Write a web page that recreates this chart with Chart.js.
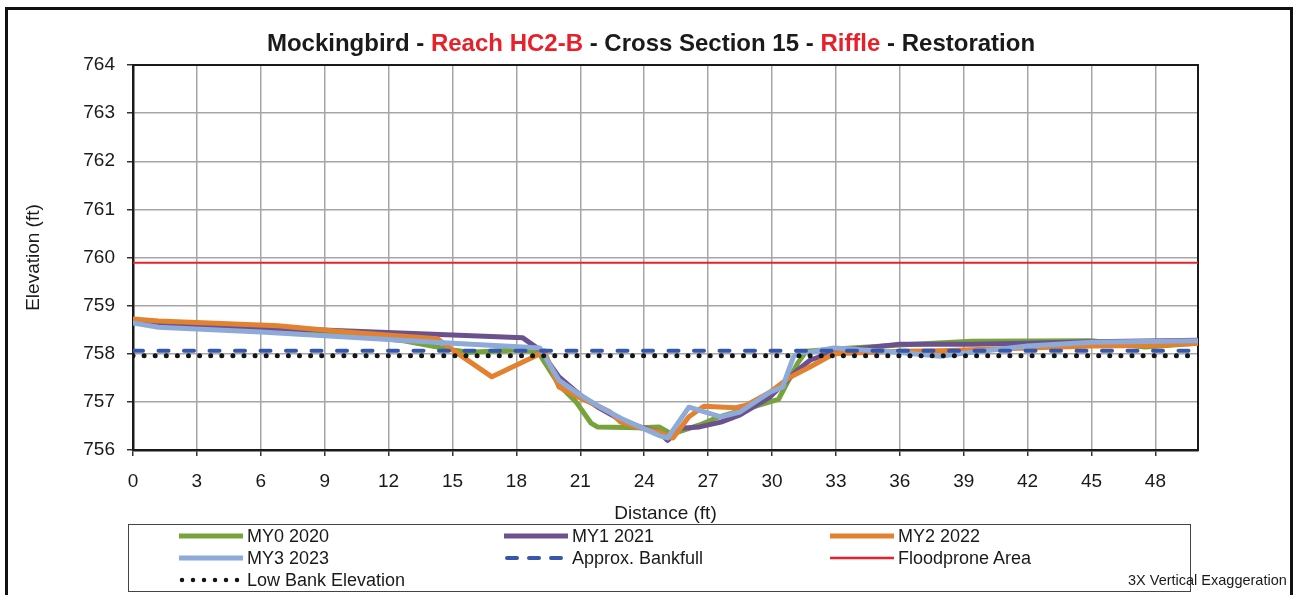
<!DOCTYPE html>
<html>
<head>
<meta charset="utf-8">
<title>Mockingbird - Reach HC2-B - Cross Section 15</title>
<script src="https://cdn.jsdelivr.net/npm/chart.js@4/dist/chart.umd.min.js"></script>
<style>
  body { margin: 0; background: #fff; font-family: "Liberation Sans", Arial, sans-serif; }
  #wrap { position: relative; width: 1297px; height: 595px; overflow: hidden; }
  #xs { position: absolute; left: 0; top: 0; }
  #frame { position: absolute; left: 5px; top: 7px; width: 1282px; height: 640px; border: 3px solid #111; pointer-events: none; }
  #title { position: absolute; left: 0; top: 29px; width: 1302px; text-align: center; font-weight: bold; font-size: 24px; line-height: 28px; color: #1a1a1a; }
  #title .red { color: #e8202a; }
  #legend { position: absolute; left: 128px; top: 524px; width: 1061px; height: 66px; border: 1px solid #444; background: #fff; }
  .item { position: absolute; height: 22px; line-height: 22px; font-size: 18px; color: #1a1a1a; white-space: nowrap; }
  .item svg { vertical-align: middle; margin-right: 4px; position: relative; top: -1px; }
  #note { position: absolute; left: 1128px; top: 572px; font-size: 14.5px; color: #1a1a1a; white-space: nowrap; }
</style>
</head>
<body>
<div id="wrap">
  <canvas id="xs" width="1297" height="595"></canvas>
  <div id="frame"></div>
  <div id="title">Mockingbird - <span class="red">Reach HC2-B</span> - Cross Section 15 - <span class="red">Riffle</span> - Restoration</div>
  <div id="legend"></div>
  <div id="note">3X Vertical Exaggeration</div>
</div>
<script>
// survey data, distance (ft) / elevation (ft)
var my0Dist = [0, 1.2, 6, 10, 12.7, 15, 15.8, 18, 19, 20, 20.8, 21.5, 21.8, 23.8, 24.7, 25.3, 26.6, 27.4, 29.9, 30.3, 31.2, 31.6, 33, 36, 39.4, 45, 47.5, 50];
var my0Elev = [758.68, 758.6, 758.52, 758.4, 758.27, 758.08, 758.03, 758.08, 758.05, 757.35, 757.0, 756.56, 756.48, 756.46, 756.48, 756.33, 756.52, 756.67, 757.0, 757.05, 757.8, 758.05, 758.1, 758.18, 758.26, 758.27, 758.14, 758.22];

var my1Dist = [0, 1.2, 6, 9.2, 15, 18.3, 19.1, 20, 21, 21.9, 22.9, 23.8, 24.7, 25.1, 25.7, 26.6, 27.6, 28.5, 29.9, 31.2, 31.8, 32.7, 33.5, 36, 39.4, 42, 45, 50];
var my1Elev = [758.66, 758.6, 758.53, 758.49, 758.39, 758.33, 758.08, 757.52, 757.14, 756.87, 756.62, 756.48, 756.37, 756.2, 756.45, 756.48, 756.58, 756.73, 757.1, 757.66, 757.87, 758.01, 758.08, 758.2, 758.2, 758.22, 758.25, 758.28];

var my2Dist = [0, 1.2, 6.8, 10, 14.3, 15, 16.85, 18.97, 19.3, 20, 21, 21.9, 22.4, 22.9, 23.8, 24.7, 25.35, 26.1, 26.8, 28.3, 28.8, 29.9, 30.8, 31.8, 32.9, 36, 37.9, 42, 45, 48, 50];
var my2Elev = [758.72, 758.68, 758.58, 758.45, 758.31, 758.08, 757.52, 757.97, 758.06, 757.31, 757.08, 756.9, 756.79, 756.58, 756.46, 756.37, 756.25, 756.69, 756.91, 756.88, 756.93, 757.2, 757.5, 757.73, 758.0, 758.05, 758.06, 758.12, 758.16, 758.17, 758.22];

var my3Dist = [0, 1.2, 6, 9.2, 15, 18.3, 19.1, 20, 21, 21.9, 22.9, 23.8, 24.7, 25.1, 26.1, 27.6, 28.5, 29.9, 30.5, 31, 31.3, 31.8, 32.9, 35.9, 37.9, 38.8, 42, 45, 50];
var my3Elev = [758.64, 758.55, 758.45, 758.37, 758.22, 758.14, 758.12, 757.45, 757.14, 756.9, 756.66, 756.48, 756.3, 756.25, 756.89, 756.69, 756.79, 757.2, 757.31, 757.93, 758.03, 758.03, 758.12, 758.03, 757.95, 758.0, 758.16, 758.24, 758.27];

var bankfullElev = 758.06;
var floodproneElev = 759.89;
var lowBankElev = 757.96;

var xRange = [0, 50];
var xTicks = [0, 3, 6, 9, 12, 15, 18, 21, 24, 27, 30, 33, 36, 39, 42, 45, 48];
var yTicks = [756, 757, 758, 759, 760, 761, 762, 763, 764];

function pts(xs, ys) {
  return xs.map(function(x, i) { return {x: x, y: ys[i]}; });
}
function flat(y) {
  return [{x: xRange[0], y: y}, {x: xRange[1], y: y}];
}

var legendItems = [
  {label: 'MY0 2020', color: '#77a33b', width: 5, dash: ''},
  {label: 'MY1 2021', color: '#6b528e', width: 5, dash: ''},
  {label: 'MY2 2022', color: '#e3812f', width: 5, dash: ''},
  {label: 'MY3 2023', color: '#8eaad8', width: 5, dash: ''},
  {label: 'Approx. Bankfull', color: '#3558ad', width: 4, dash: '10 12'},
  {label: 'Floodprone Area', color: '#e8222b', width: 2.5, dash: ''},
  {label: 'Low Bank Elevation', color: '#151515', width: 4.5, dash: '0 11'}
];

var colX = [50, 375, 701];
var leg = document.getElementById('legend');
legendItems.forEach(function(it, i) {
  var d = document.createElement('div');
  d.className = 'item';
  d.style.left = colX[i % 3] + 'px';
  d.style.top = (Math.floor(i / 3) * 22) + 'px';
  var cap = it.dash ? 'round' : 'butt';
  d.innerHTML = '<svg width="64" height="10"><line x1="' + (it.dash ? 3 : 0) + '" y1="5" x2="64" y2="5" stroke="' + it.color +
    '" stroke-width="' + it.width + '" stroke-linecap="' + cap + '" stroke-dasharray="' + it.dash + '"/></svg>' + it.label;
  leg.appendChild(d);
});

var plotFrame = {
  id: 'plotFrame',
  beforeDatasetsDraw: function(chart) {
    var a = chart.chartArea, ctx = chart.ctx;
    ctx.save();
    ctx.strokeStyle = '#1a1a1a';
    ctx.lineWidth = 2;
    ctx.strokeRect(a.left, a.top, a.right - a.left, a.bottom - a.top);
    ctx.restore();
  }
};

Chart.defaults.font.family = '"Liberation Sans", Arial, sans-serif';
Chart.defaults.color = '#1a1a1a';

var series = {borderWidth: 5, pointRadius: 0, tension: 0, borderJoinStyle: 'round', borderCapStyle: 'round', fill: false};

var ctx = document.getElementById('xs').getContext('2d');
var xsChart = new Chart(ctx, {
  type: 'line',
  data: {
    datasets: [
      Object.assign({label: 'MY0 2020', data: pts(my0Dist, my0Elev), borderColor: '#77a33b', order: 6}, series),
      Object.assign({label: 'MY1 2021', data: pts(my1Dist, my1Elev), borderColor: '#6b528e', order: 5}, series),
      Object.assign({label: 'MY2 2022', data: pts(my2Dist, my2Elev), borderColor: '#e3812f', order: 4}, series),
      Object.assign({label: 'MY3 2023', data: pts(my3Dist, my3Elev), borderColor: '#8eaad8', order: 3}, series),
      {label: 'Approx. Bankfull', data: flat(bankfullElev), borderColor: '#3558ad', borderWidth: 4, borderDash: [10, 15.5],
        borderCapStyle: 'round', pointRadius: 0, order: 1},
      {label: 'Floodprone Area', data: flat(floodproneElev), borderColor: '#e8222b', borderWidth: 2, pointRadius: 0, order: 2},
      {label: 'Low Bank Elevation', data: flat(lowBankElev), borderColor: '#151515', borderWidth: 5, borderDash: [0, 11.1],
        borderCapStyle: 'round', pointRadius: 0, order: 0}
    ]
  },
  options: {
    responsive: false,
    animation: false,
    devicePixelRatio: 1,
    layout: {padding: {left: 0, top: 65, right: 99, bottom: 70}},
    plugins: {legend: {display: false}, title: {display: false}, tooltip: {enabled: false}},
    scales: {
      x: {
        type: 'linear', min: xRange[0], max: xRange[1],
        afterBuildTicks: function(s) { s.ticks = xTicks.map(function(v) { return {value: v}; }); },
        afterFit: function(s) { s.height = 75; },
        ticks: {font: {size: 19}, padding: 14, maxRotation: 0, autoSkip: false},
        grid: {color: '#a6a6a6', lineWidth: 1.5, tickLength: 6, tickColor: '#333'},
        border: {color: '#1a1a1a', width: 2.5},
        title: {display: true, text: 'Distance (ft)', font: {size: 19}, padding: {top: 0, bottom: 0}}
      },
      y: {
        min: yTicks[0], max: yTicks[yTicks.length - 1],
        afterBuildTicks: function(s) { s.ticks = yTicks.map(function(v) { return {value: v}; }); },
        afterFit: function(s) { s.width = 133; },
        ticks: {font: {size: 19}, padding: 12},
        grid: {color: '#a6a6a6', lineWidth: 1.5, tickLength: 6, tickColor: '#333'},
        border: {color: '#1a1a1a', width: 2.5},
        title: {display: true, text: 'Elevation (ft)', font: {size: 19}, padding: {top: 22, bottom: 0}}
      }
    }
  },
  plugins: [plotFrame]
});
</script>
</body>
</html>
